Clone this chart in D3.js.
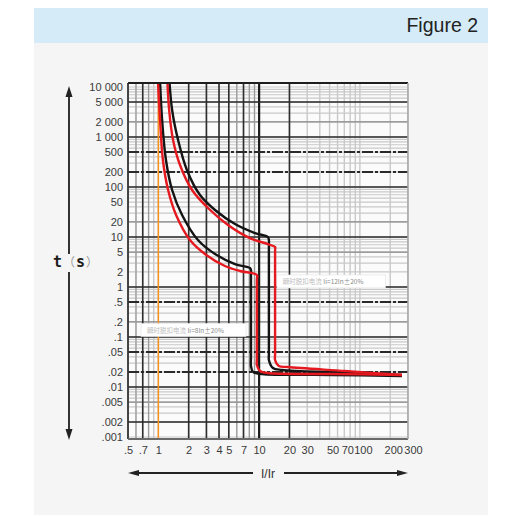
<!DOCTYPE html>
<html><head><meta charset="utf-8">
<script src="https://cdn.jsdelivr.net/npm/d3@7"></script>
<style>
html,body{margin:0;padding:0;background:#fff;}
svg{display:block;}
</style></head><body>
<svg id="chart" width="506" height="516"></svg>
<script>
// ---------- data ----------
const xTickValues = [0.5, 0.7, 1, 2, 3, 4, 5, 7, 10, 20, 30, 50, 70, 100, 200, 300];
const xTickText   = [".5", ".7", "1", "2", "3", "4", "5", "7", "10", "20", "30", "50", "70", "100", "200", "300"];
const yTickValues = [10000, 5000, 2000, 1000, 500, 200, 100, 50, 20, 10, 5, 2, 1, 0.5, 0.2, 0.1, 0.05, 0.02, 0.01, 0.005, 0.002, 0.001];
const yTickText   = ["10 000", "5 000", "2 000", "1 000", "500", "200", "100", "50", "20", "10", "5", "2", "1", ".5", ".2", ".1", ".05", ".02", ".01", ".005", ".002", ".001"];

// trip curves: [I/Ir, t (s)]
const innerBlack = [[1.03,20000],[1.09,2188],[1.19,347],[1.37,87],[1.72,27.5],[2.47,8.7],[3.65,4.57],[5.76,2.88],[8.1,2.4],[8.3,2.19],[8.3,1.6],[8.3,0.04],[8.3,0.0263],[8.7,0.020],[10.7,0.0182],[52.8,0.0174],[261,0.0166]];
const innerRed   = [[0.98,20000],[1.04,2188],[1.11,347],[1.25,87],[1.50,27.5],[2.06,8.7],[2.90,4.57],[4.58,2.63],[6.46,2.09],[9.5,1.74],[9.5,1.4],[9.5,0.035],[9.5,0.0275],[10.2,0.0209],[12.2,0.019],[56,0.0182],[261,0.0174]];
const outerBlack = [[1.27,20000],[1.37,3467],[1.57,871],[1.92,219],[2.59,69],[3.65,34.7],[5.76,18.2],[9.1,12.0],[12.2,10],[12.5,8.7],[12.5,7],[12.5,0.045],[12.5,0.0347],[13.7,0.024],[16.9,0.0219],[66,0.0195],[261,0.0174]];
const outerRed   = [[1.22,20000],[1.28,3467],[1.40,871],[1.64,275],[2.16,87],[3.11,38],[4.91,17.4],[8.1,9.5],[12.2,7.2],[14.4,6.3],[14.4,5.5],[14.4,0.045],[14.4,0.0347],[15.7,0.0263],[19.3,0.0251],[71,0.0209],[261,0.0174]];
const ratedLine = 1;   // orange I/Ir = 1

// grid emphasis
const xDark  = [0.7, 2, 3, 4, 5, 7, 20];
const xThick = [10];
const xMid   = [0.6, 0.8, 6, 8, 9];
const yDark  = [5000, 1000, 100, 10, 1, 0.1, 0.01, 0.002];
const yDashed = [500, 200, 0.5, 0.05, 0.02];
const yMid   = [2000, 20, 5, 0.2, 0.005];

// annotations
const annotI = [15.0, 0.673];
const annotT = [1.29, 0.138];
const annotGray = ["瞬时脱扣电流 ", "瞬时脱扣电流 "];
const annotDark = ["Ii=12In±20%", "Ii=8In±20%"];

// ---------- drawing ----------
const svg = d3.select("#chart");
const FONT = "Liberation Sans, Arial, Helvetica, sans-serif";

svg.append("rect").attr("x",34).attr("y",8).attr("width",454).attr("height",35).attr("fill","#d5ecf8");
svg.append("rect").attr("x",34).attr("y",43).attr("width",454).attr("height",472).attr("fill","#f5f5f5");
svg.append("text").attr("x",478).attr("y",32).attr("text-anchor","end")
  .attr("font-family",FONT).attr("font-size",19.5).attr("fill","#222").text("Figure 2");

const P = {left:128, right:408, top:83, bottom:439};
const x = d3.scaleLog().domain([0.5,300]).range([P.left,P.right]);
const y = d3.scaleLog().domain([0.001,10000]).range([437,87]);

svg.append("defs").append("clipPath").attr("id","clip")
  .append("rect").attr("x",P.left).attr("y",P.top).attr("width",P.right-P.left).attr("height",P.bottom-P.top);

svg.append("rect").attr("x",P.left).attr("y",P.top).attr("width",P.right-P.left).attr("height",P.bottom-P.top).attr("fill","#fbfbfb");

const grid = svg.append("g").attr("clip-path","url(#clip)");

// minor grid values (log subdivisions)
const xMinor = [];
[0.1,1,10,100].forEach(d=>{ for(let k=1;k<=9;k++){ const v=+(k*d).toPrecision(3); if(v>=0.5&&v<=300) xMinor.push(v);} });
const yMinor = [];
[0.001,0.01,0.1,1,10,100,1000,10000].forEach(d=>{ for(let k=1;k<=9;k++){ const v=+(k*d).toPrecision(3); if(y(v)>=P.top&&y(v)<=P.bottom) yMinor.push(v);} });

function vlines(vals, color, w, dash){
  grid.selectAll(null).data(vals).enter().append("line")
    .attr("x1",d=>x(d)).attr("x2",d=>x(d)).attr("y1",P.top).attr("y2",P.bottom)
    .attr("stroke",color).attr("stroke-width",w).attr("stroke-dasharray",dash||null);
}
function hlines(vals, color, w, dash){
  grid.selectAll(null).data(vals).enter().append("line")
    .attr("y1",d=>y(d)).attr("y2",d=>y(d)).attr("x1",P.left).attr("x2",P.right)
    .attr("stroke",color).attr("stroke-width",w).attr("stroke-dasharray",dash||null);
}
hlines(yMinor, "#c9c9c9", 1.2);
vlines(xMinor, "#c9c9c9", 1.4);
hlines(yMid, "#8a8a8a", 1.2);
vlines(xMid, "#9a9a9a", 1.2);
vlines(xDark, "#2e2e2e", 1.6);
vlines(xThick, "#1a1a1a", 2.2);
hlines(yDark, "#2a2a2a", 1.6);
hlines(yDashed, "#2a2a2a", 2.1, "11,2,3,2");

// orange rated line
grid.append("line").attr("x1",x(ratedLine)).attr("x2",x(ratedLine)).attr("y1",P.top).attr("y2",P.bottom)
  .attr("stroke","#f7931e").attr("stroke-width",1.5);

// annotation boxes
annotI.forEach((a,i)=>{
  const g = grid.append("g");
  const t = g.append("text").attr("x",x(a)+6).attr("y",y(annotT[i])+2.5)
    .attr("font-family","Noto Sans CJK SC, sans-serif").attr("font-size",6.5);
  t.append("tspan").attr("fill","#bdbdbd").text(annotGray[i]);
  t.append("tspan").attr("fill","#8a8a8a").text(annotDark[i]);
  const bb = t.node().getBBox();
  g.insert("rect","text").attr("x",x(a)).attr("y",y(annotT[i])-6.5)
    .attr("width",bb.width+28).attr("height",13).attr("fill","#ffffff").attr("stroke","#e4e4e4").attr("stroke-width",0.6);
});

// curves
const line = d3.line().x(d=>x(d[0])).y(d=>y(d[1])).curve(d3.curveCatmullRom.alpha(0.5));
const curves = grid.append("g").attr("fill","none").attr("stroke-width",2.4).attr("stroke-linejoin","round");
curves.append("path").attr("d",line(innerBlack)).attr("stroke","#141414");
curves.append("path").attr("d",line(outerBlack)).attr("stroke","#141414");
curves.append("path").attr("d",line(innerRed)).attr("stroke","#e5191f");
curves.append("path").attr("d",line(outerRed)).attr("stroke","#e5191f");

// frame
svg.append("line").attr("x1",P.left).attr("x2",P.right).attr("y1",P.top).attr("y2",P.top).attr("stroke","#1e1e1e").attr("stroke-width",2);
svg.append("line").attr("x1",P.left).attr("x2",P.left).attr("y1",P.top).attr("y2",P.bottom).attr("stroke","#333").attr("stroke-width",1.8);
svg.append("line").attr("x1",P.left).attr("x2",P.right).attr("y1",P.bottom).attr("y2",P.bottom).attr("stroke","#6a6a6a").attr("stroke-width",2);
svg.append("line").attr("x1",P.right).attr("x2",P.right).attr("y1",P.top).attr("y2",P.bottom).attr("stroke","#a8a8a8").attr("stroke-width",1.6);

// axes (labels only)
const xAxis = d3.axisBottom(x).tickValues(xTickValues).tickFormat((d,i)=>xTickText[i]).tickSize(0).tickPadding(7);
const gx = svg.append("g").attr("transform",`translate(0,${P.bottom})`).call(xAxis);
gx.select(".domain").remove();
gx.selectAll("text").attr("font-family",FONT).attr("font-size",11).attr("fill","#3a3a3a")
  .attr("dx",d=> d>=300 ? 5 : (d>=50 ? 3 : 0));

const yAxis = d3.axisLeft(y).tickValues(yTickValues).tickFormat((d,i)=>yTickText[i]).tickSize(0).tickPadding(5);
const gy = svg.append("g").attr("transform",`translate(${P.left},0)`).call(yAxis);
gy.select(".domain").remove();
gy.selectAll("text").attr("font-family",FONT).attr("font-size",11).attr("fill","#3a3a3a");

// y arrow with t (s)
const ax = 69;
svg.append("line").attr("x1",ax).attr("x2",ax).attr("y1",94).attr("y2",254).attr("stroke","#333").attr("stroke-width",2);
svg.append("line").attr("x1",ax).attr("x2",ax).attr("y1",272).attr("y2",432).attr("stroke","#333").attr("stroke-width",2);
svg.append("path").attr("d",`M${ax},86 L${ax-3.5},97 L${ax+3.5},97 Z`).attr("fill","#222");
svg.append("path").attr("d",`M${ax},440 L${ax-3.5},429 L${ax+3.5},429 Z`).attr("fill","#222");
const tf = "DejaVu Sans Mono, monospace";
svg.append("text").attr("x",53).attr("y",267).attr("font-family",tf).attr("font-weight","bold").attr("font-size",15).attr("fill","#1a1a1a").text("t");
svg.append("text").attr("x",63).attr("y",267).attr("font-family","Noto Sans CJK SC, sans-serif").attr("font-size",12).attr("fill","#9a9a9a").text("（");
svg.append("text").attr("x",76).attr("y",267).attr("font-family",tf).attr("font-weight","bold").attr("font-size",15).attr("fill","#1a1a1a").text("s");
svg.append("text").attr("x",86).attr("y",267).attr("font-family","Noto Sans CJK SC, sans-serif").attr("font-size",12).attr("fill","#9a9a9a").text("）");

// x arrow with I/Ir
const ay = 473;
svg.append("line").attr("x1",134).attr("x2",253).attr("y1",ay).attr("y2",ay).attr("stroke","#222").attr("stroke-width",1.8);
svg.append("line").attr("x1",284).attr("x2",402).attr("y1",ay).attr("y2",ay).attr("stroke","#222").attr("stroke-width",1.8);
svg.append("path").attr("d",`M128,${ay} L139,${ay-3} L139,${ay+3} Z`).attr("fill","#222");
svg.append("path").attr("d",`M408,${ay} L397,${ay-3} L397,${ay+3} Z`).attr("fill","#222");
svg.append("text").attr("x",268).attr("y",ay+4.5).attr("text-anchor","middle").attr("font-family",FONT).attr("font-size",12).attr("fill","#333").text("I/Ir");
</script>
</body></html>
